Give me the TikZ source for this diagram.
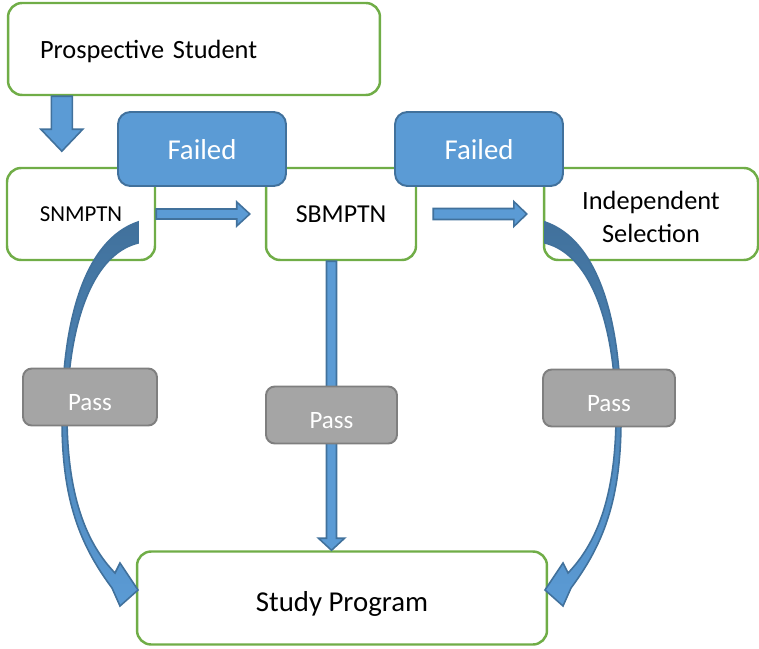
\documentclass[tikz,border=0pt]{standalone}
\usepackage{fontspec}
\setmainfont{Carlito}
\usetikzlibrary{calc}

\definecolor{stageline}{HTML}{70AD47}
\definecolor{blockfill}{HTML}{5B9BD5}
\definecolor{blockline}{HTML}{41719C}
\definecolor{passfill}{HTML}{A5A5A5}
\definecolor{passline}{HTML}{7F7F7F}

\pgfdeclarelayer{front}
\pgfsetlayers{main,front}

\tikzset{
	stage/.style={draw=stageline, line width=1.4pt, rounded corners=8pt, fill=white, minimum height=1.84cm, inner sep=0pt, align=center, text depth=0pt},
	failed/.style={draw=blockline, line width=1.1pt, fill=blockfill, rounded corners=7pt, text=white, minimum width=3.36cm, minimum height=1.48cm, text depth=0pt, font=\fontsize{16.4}{18}\selectfont},
	pass/.style={draw=passline, line width=1.1pt, fill=passfill, rounded corners=5pt, text=white, minimum height=1.14cm, text depth=0pt, text height=15pt, font=\fontsize{14.2}{16}\selectfont},
	blockarrow/.style={draw=blockline, fill=blockfill, line width=0.9pt},
	curvedarrow/.pic={
		\path[draw=blockline, line width=0.9pt, top color=blockline, bottom color=blockfill]
			(138,222) .. controls (85,240) and (62,320) .. (62,420)
			.. controls (62,500) and (80,545) .. (112,588)
			-- (120,606) -- (138,590) -- (120,563) -- (115,573)
			.. controls (88,545) and (68,500) .. (67,420)
			.. controls (67,330) and (90,255) .. (138,243) -- cycle;
	}
}

% block arrows: tail, tip, half shaft, half head, head length
\newcommand{\harrow}[5]{\draw[blockarrow] ($(#1)+(0,-#3)$) -- ($(#2)+(-#5,-#3)$) -- ($(#2)+(-#5,-#4)$) -- (#2) -- ($(#2)+(-#5,#4)$) -- ($(#2)+(-#5,#3)$) -- ($(#1)+(0,#3)$) -- cycle;}
\newcommand{\varrow}[5]{\draw[blockarrow] ($(#1)+(-#3,0)$) -- ($(#2)+(-#3,-#5)$) -- ($(#2)+(-#4,-#5)$) -- (#2) -- ($(#2)+(#4,-#5)$) -- ($(#2)+(#3,-#5)$) -- ($(#1)+(#3,0)$) -- cycle;}

\begin{document}
\begin{tikzpicture}[x=0.02cm, y=-0.02cm]
			\useasboundingbox (0,0) rectangle (759,648);

			\node[stage, minimum width=7.44cm, text width=6.16cm, align=left, font=\fontsize{15}{18}\selectfont] (ps) at (194,49) {Prospective Student};
			\node[stage, minimum width=2.96cm, font=\fontsize{13}{16}\selectfont] (sn) at (81,214) {SNMPTN};
			\node[stage, minimum width=3cm, font=\fontsize{14.7}{17}\selectfont] (sb) at (341,214) {SBMPTN};
			\node[stage, minimum width=4.28cm, text height=32.6pt, font=\fontsize{15}{18.7}\selectfont] (ind) at (651,214) {Independent\\Selection};
			\node[stage, minimum width=8.2cm, minimum height=1.86cm, text height=15.7pt, font=\fontsize{16.4}{19}\selectfont] (sp) at (342,598) {Study Program};

			\node[failed] (f1) at (202,149) {Failed};
			\node[failed] (f2) at (479,149) {Failed};

			\begin{pgfonlayer}{front}
				\node[pass, minimum width=2.68cm] (p1) at (90,397) {Pass};
				\node[pass, minimum width=2.62cm] (p2) at (331.5,415) {Pass};
				\node[pass, minimum width=2.64cm] (p3) at (609,398) {Pass};
			\end{pgfonlayer}

			\coordinate (a0) at ($(ps.south west)+(55,0)$);
			\coordinate (a1) at ($(a0)+(0,55)$);
			\varrow{a0}{a1}{10.5}{21}{22}

			\coordinate (b1) at ($(sb.west)+(-15,0)$);
			\harrow{sn.east}{b1}{5}{12}{13}

			\coordinate (c0) at ($(sb.east)+(16,0)$);
			\coordinate (c1) at ($(ind.west)+(-16,0)$);
			\harrow{c0}{c1}{5.5}{12.5}{13}

			\coordinate (d0) at (p2 |- sb.south);
			\coordinate (d1) at (p2 |- sp.north);
			\varrow{d0}{d1}{5}{13}{12}

			\pic at (0,0) {curvedarrow};
			\pic[xscale=-1] at (683,0) {curvedarrow};
\end{tikzpicture}
\end{document}
